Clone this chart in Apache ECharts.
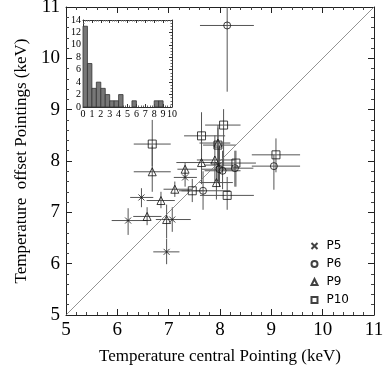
<!DOCTYPE html>
<html>
<head>
<meta charset="utf-8">
<script src="https://cdn.jsdelivr.net/npm/echarts@6/dist/echarts.min.js"></script>
<style>
  html, body { margin: 0; padding: 0; background: #fff; }
  #chart { width: 384px; height: 366px; }
</style>
</head>
<body>
<div id="chart"></div>
<script>
// each row: [Tcentral, Toffset, xLow, xHigh, yLow, yHigh]
var p5Points = [
  [6.21, 6.84, 5.89, 6.57, 6.56, 7.08],
  [6.47, 7.29, 6.25, 6.70, 7.10, 7.47],
  [7.07, 6.86, 6.83, 7.43, 6.62, 7.10],
  [6.96, 6.23, 6.70, 7.21, 5.99, 6.49],
  [7.32, 7.68, 7.10, 7.55, 7.50, 7.85],
  [7.97, 7.92, 7.70, 8.25, 7.60, 8.25]
];
var p6Points = [
  [8.14, 10.64, 7.61, 8.66, 9.35, 11.0],
  [7.67, 7.42, 7.20, 8.20, 7.05, 7.80],
  [8.05, 7.81, 7.70, 8.40, 7.45, 8.20],
  [8.29, 7.86, 7.95, 8.65, 7.50, 8.20],
  [9.05, 7.90, 8.62, 9.56, 7.44, 8.12],
  [7.99, 7.84, 7.65, 8.30, 7.50, 8.30]
];
var p9Points = [
  [6.68, 7.79, 6.32, 7.04, 7.40, 8.30],
  [7.32, 7.84, 7.17, 7.55, 7.67, 7.96],
  [7.12, 7.45, 6.90, 7.45, 7.30, 7.60],
  [6.85, 7.23, 6.57, 7.12, 7.08, 7.40],
  [6.58, 6.92, 6.31, 6.86, 6.75, 7.10],
  [6.96, 6.86, 6.75, 7.15, 6.50, 7.15],
  [7.64, 7.97, 7.15, 7.95, 7.55, 8.45],
  [7.90, 8.02, 7.55, 8.30, 7.60, 8.50],
  [7.93, 7.58, 7.60, 8.25, 7.25, 7.90],
  [7.96, 8.35, 7.60, 8.20, 7.90, 8.70]
];
var p10Points = [
  [6.68, 8.33, 6.32, 7.04, 7.90, 8.80],
  [8.07, 8.70, 7.71, 8.40, 7.89, 9.01],
  [7.64, 8.49, 7.30, 8.10, 8.00, 8.95],
  [7.96, 8.31, 7.67, 8.31, 7.60, 8.65],
  [8.31, 7.96, 7.95, 8.70, 7.50, 8.20],
  [7.46, 7.42, 7.25, 7.70, 7.20, 7.65],
  [8.14, 7.33, 7.61, 8.66, 7.05, 7.69],
  [9.09, 8.12, 8.62, 9.56, 7.78, 8.44]
];
var diagonal = [[5, 5], [11, 11]];

// inset histogram: bin start (width 0.5) and counts
var histBinStart = [0, 0.5, 1, 1.5, 2, 2.5, 3, 3.5, 4, 4.5, 5, 5.5, 6, 6.5, 7, 7.5, 8, 8.5];
var histCount    = [13, 7, 3, 4, 3, 2, 1, 1, 2, 0, 0, 1, 0, 0, 0, 0, 1, 1];
var binWidth = 0.5;

var serif = "'Liberation Serif', 'DejaVu Serif', serif";

function errItem(params, api) {
  var x = api.value(0), y = api.value(1);
  var a = api.coord([api.value(2), y]), b = api.coord([api.value(3), y]);
  var c = api.coord([x, api.value(4)]), d = api.coord([x, api.value(5)]);
  var st = { stroke: '#555', lineWidth: 1 };
  return {
    type: 'group',
    children: [
      { type: 'line', shape: { x1: a[0], y1: a[1], x2: b[0], y2: b[1] }, style: st },
      { type: 'line', shape: { x1: c[0], y1: c[1], x2: d[0], y2: d[1] }, style: st }
    ]
  };
}

function histItem(params, api) {
  var x0 = api.value(0), h = api.value(1);
  if (!h) return null;
  var p0 = api.coord([x0, h]);
  var p1 = api.coord([x0 + binWidth, 0]);
  return {
    type: 'rect',
    shape: { x: p0[0], y: p0[1], width: p1[0] - p0[0], height: p1[1] - p0[1] },
    style: { fill: '#777', stroke: '#333', lineWidth: 0.8 }
  };
}

function mainAxis(pos, showLabel, name) {
  return {
    type: 'value', gridIndex: 0, position: pos,
    min: 5, max: 11, interval: 1,
    name: name || '', nameLocation: 'middle',
    nameTextStyle: { fontFamily: serif, fontSize: 17, color: '#000' },
    axisLine: { show: true, onZero: false, lineStyle: { color: '#222', width: 1 } },
    axisTick: { show: true, inside: true, length: 6, lineStyle: { color: '#222' } },
    minorTick: { show: true, splitNumber: 5, length: 3, lineStyle: { color: '#444' } },
    axisLabel: { show: showLabel, fontFamily: serif, fontSize: 19, color: '#000', margin: 6 },
    splitLine: { show: false }
  };
}

function insetAxis(pos, showLabel, max, interval) {
  return {
    type: 'value', gridIndex: 1, position: pos,
    min: 0, max: max, interval: interval,
    axisLine: { show: true, onZero: false, lineStyle: { color: '#333', width: 1 } },
    axisTick: { show: true, inside: true, length: 3, lineStyle: { color: '#333' } },
    minorTick: { show: true, splitNumber: 4, length: 1.5, lineStyle: { color: '#666' } },
    axisLabel: { show: showLabel, fontFamily: serif, fontSize: 10, color: '#000', margin: 2 },
    splitLine: { show: false }
  };
}

var xMain = mainAxis('bottom', true, 'Temperature central Pointing (keV)');
xMain.nameGap = 33;
var yMain = mainAxis('left', true, 'Temperature  offset Pointings (keV)');
yMain.nameGap = 36;

var mk = { color: 'transparent', borderColor: '#111', borderWidth: 1 };

var chart = echarts.init(document.getElementById('chart'));
chart.setOption({
  backgroundColor: '#fff',
  animation: false,
  grid: [
    { left: 66, right: 10, top: 7, bottom: 51, outerBoundsMode: 'none' },
    { left: 83, top: 20, width: 89, height: 87, z: 5, outerBoundsMode: 'none' }
  ],
  xAxis: [
    xMain,
    mainAxis('top', false),
    insetAxis('bottom', true, 10, 1),
    insetAxis('top', false, 10, 1)
  ],
  yAxis: [
    yMain,
    mainAxis('right', false),
    insetAxis('left', true, 14, 2),
    insetAxis('right', false, 14, 2)
  ],
  legend: {
    orient: 'vertical', right: 30, top: 235,
    itemWidth: 6, itemHeight: 6, itemGap: 6,
    textStyle: { fontFamily: "'DejaVu Sans', sans-serif", fontSize: 12, color: '#000', padding: [0, 0, 0, 4] },
    data: ['P5', 'P6', 'P9', 'P10']
  },
  series: [
    {
      type: 'line', xAxisIndex: 0, yAxisIndex: 0, data: diagonal,
      symbol: 'none', silent: true,
      lineStyle: { color: '#777', width: 0.8 }
    },
    { type: 'custom', name: 'errP5', xAxisIndex: 0, yAxisIndex: 0, renderItem: errItem, data: p5Points, clip: true },
    { type: 'custom', name: 'errP6', xAxisIndex: 0, yAxisIndex: 0, renderItem: errItem, data: p6Points, clip: true },
    { type: 'custom', name: 'errP9', xAxisIndex: 0, yAxisIndex: 0, renderItem: errItem, data: p9Points, clip: true },
    { type: 'custom', name: 'errP10', xAxisIndex: 0, yAxisIndex: 0, renderItem: errItem, data: p10Points, clip: true },
    {
      type: 'scatter', name: 'P5', xAxisIndex: 0, yAxisIndex: 0, z: 4,
      symbol: 'path://M0,0L10,10M10,0L0,10', symbolSize: 6,
      itemStyle: mk, data: p5Points.map(function (p) { return [p[0], p[1]]; })
    },
    {
      type: 'scatter', name: 'P6', xAxisIndex: 0, yAxisIndex: 0, z: 4,
      symbol: 'circle', symbolSize: 7,
      itemStyle: mk, data: p6Points.map(function (p) { return [p[0], p[1]]; })
    },
    {
      type: 'scatter', name: 'P9', xAxisIndex: 0, yAxisIndex: 0, z: 4,
      symbol: 'triangle', symbolSize: 8,
      itemStyle: mk, data: p9Points.map(function (p) { return [p[0], p[1]]; })
    },
    {
      type: 'scatter', name: 'P10', xAxisIndex: 0, yAxisIndex: 0, z: 4,
      symbol: 'rect', symbolSize: 8,
      itemStyle: mk, data: p10Points.map(function (p) { return [p[0], p[1]]; })
    },
    {
      type: 'custom', xAxisIndex: 2, yAxisIndex: 2, z: 6,
      renderItem: histItem,
      data: histBinStart.map(function (b, i) { return [b, histCount[i]]; })
    }
  ]
});
</script>
</body>
</html>
